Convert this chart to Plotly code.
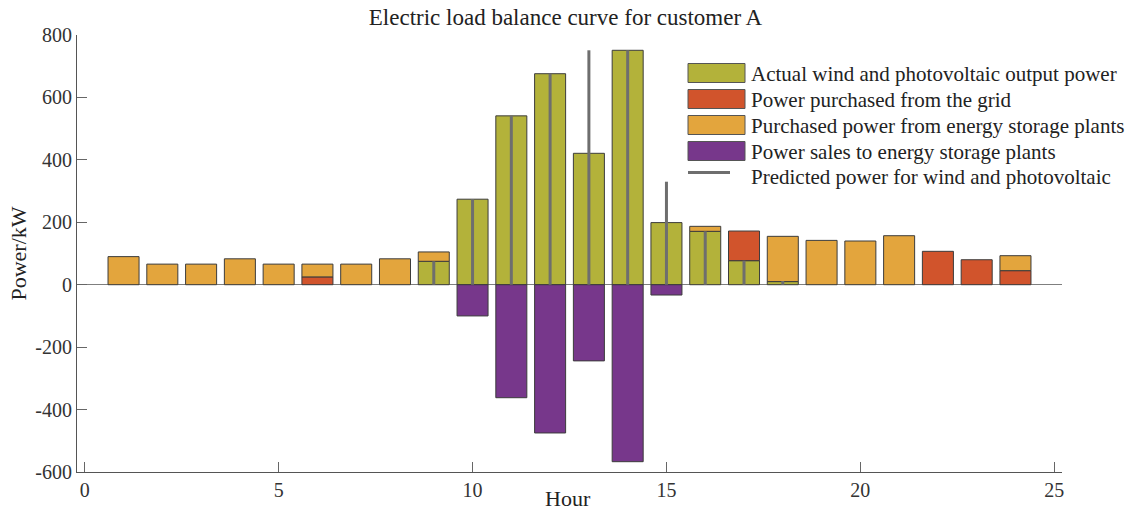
import plotly.graph_objects as go

hours = list(range(1, 25))
wind_pv = [None, None, None, None, None, None, None, None, 75, 274, 541, 676, 421, 751, 199, 171, 77, 10, None, None, None, None, None, None]
grid = [None, None, None, None, None, 25, None, None, None, None, None, None, None, None, None, None, 95, None, None, None, None, 107, 80, 45]
storage_buy = [90, 66, 66, 83, 66, 41, 66, 83, 30, None, None, None, None, None, None, 16, None, 145, 142, 140, 157, None, None, 48]
storage_sell = [None, None, None, None, None, None, None, None, None, -100, -362, -475, -244, -567, -33, None, None, None, None, None, None, None, None, None]
pred_hours = [9, 10, 11, 12, 13, 14, 15, 16, 17, 18]
pred_vals = [75, 274, 541, 676, 751, 751, 330, 171, 77, 12]

y_ticks = [-600, -400, -200, 0, 200, 400, 600, 800]
y_ticktext = ["-600", "-400", "-200", "0", "200", "400", "600", "800"]
x_ticks = [0, 5, 10, 15, 20, 25]

names = ["Actual wind and photovoltaic output power", "Power purchased from the grid",
         "Purchased power from energy storage plants", "Power sales to energy storage plants",
         "Predicted power for wind and photovoltaic"]
colors = ["#B3B23A", "#D1542C", "#E3A53D", "#77378B"]
LINE_COLOR = "#6e6e6e"

FONT = "Liberation Serif"
W, H = 1135, 511
L, R, T, B = 77, 73, 35, 39
outline = dict(color="#3c3c3c", width=1)


def px2x(px):
    return (px - L) / (W - L - R)


def py2y(py):
    return (H - B - py) / (H - T - B)


fig = go.Figure()
for vals, name, col in zip([wind_pv, grid, storage_buy, storage_sell], names[:4], colors):
    fig.add_trace(go.Bar(x=hours, y=vals, name=name, showlegend=False,
                         marker=dict(color=col, line=outline), width=0.8))

px, py = [], []
for h, v in zip(pred_hours, pred_vals):
    px += [h, h, None]
    py += [0, v, None]
fig.add_trace(go.Scatter(x=px, y=py, mode="lines", name=names[4], showlegend=False,
                         line=dict(color=LINE_COLOR, width=3)))

# legend drawn as shapes + text (large swatches like the original)
shapes = []
annotations = []
sw_x0, sw_x1 = 688, 745
row_tops = [63.5, 89.5, 115.5, 141.5]
for top, col, name in zip(row_tops, colors, names[:4]):
    shapes.append(dict(type="rect", xref="paper", yref="paper",
                       x0=px2x(sw_x0), x1=px2x(sw_x1), y0=py2y(top), y1=py2y(top + 19),
                       fillcolor=col, line=dict(color="#555555", width=1), layer="above"))
    annotations.append(dict(text=name, xref="paper", yref="paper", x=px2x(749), y=py2y(top + 10),
                            xanchor="left", yanchor="middle", showarrow=False,
                            font=dict(family=FONT, size=21, color="#222222")))
shapes.append(dict(type="line", xref="paper", yref="paper", x0=px2x(688), x1=px2x(730),
                   y0=py2y(172.5), y1=py2y(172.5), line=dict(color=LINE_COLOR, width=3)))
annotations.append(dict(text=names[4], xref="paper", yref="paper", x=px2x(749), y=py2y(177),
                        xanchor="left", yanchor="middle", showarrow=False,
                        font=dict(family=FONT, size=21, color="#222222")))
annotations.append(dict(text="Hour", xref="paper", yref="paper", x=px2x(568), y=py2y(498),
                        xanchor="center", yanchor="middle", showarrow=False,
                        font=dict(family=FONT, size=22, color="#222222")))

fig.update_layout(
    width=W, height=H,
    barmode="relative",
    plot_bgcolor="white", paper_bgcolor="white",
    margin=dict(l=L, r=R, t=T, b=B),
    font=dict(family=FONT, size=20, color="#333333"),
    title=dict(text="Electric load balance curve for customer A", xref="container", x=565.5 / W,
               xanchor="center", y=1 - 17 / H, yanchor="middle",
               font=dict(family=FONT, size=23, color="#222222")),
    showlegend=False,
    shapes=shapes,
    annotations=annotations,
    bargap=0.2,
)
fig.update_xaxes(range=[-0.2, 25.2], tickvals=x_ticks, ticks="inside", ticklen=10,
                 tickcolor="#666666", showline=True, linecolor="#555555", linewidth=1,
                 showgrid=False, zeroline=False, automargin=False,
                 tickfont=dict(family=FONT, size=20, color="#333333"))
fig.update_yaxes(range=[-600, 800], tickvals=y_ticks, ticktext=y_ticktext,
                 ticks="inside", ticklen=10, tickcolor="#666666", showline=True, linecolor="#555555",
                 linewidth=1, showgrid=False, zeroline=True, zerolinecolor="#7f7f7f", zerolinewidth=1,
                 automargin=False,
                 title=dict(text="Power/kW", standoff=2, font=dict(family=FONT, size=22, color="#222222")),
                 tickfont=dict(family=FONT, size=20, color="#333333"))

fig.write_html("out.html")
